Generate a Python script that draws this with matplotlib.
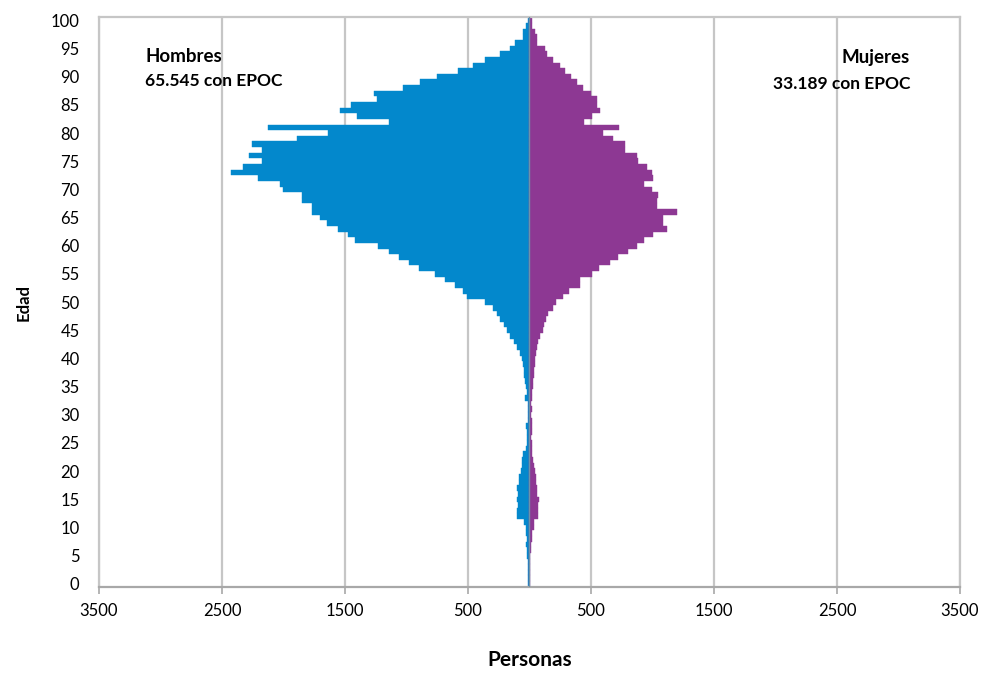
import matplotlib

matplotlib.use('agg')
import matplotlib.pyplot as plt

plt.rcParams['font.family'] = ['Lato', 'DejaVu Sans']

ages = list(range(101))

# persons with EPOC by age (0..100)
hombres = [10, 10, 10, 10, 10, 18, 18, 31, 23, 31,
           31, 42, 104, 104, 97, 104, 91, 104, 85, 85,
           69, 64, 60, 50, 28, 20, 18, 18, 28, 15,
           15, 15, 15, 35, 23, 28, 37, 42, 45, 52,
           60, 77, 99, 125, 160, 180, 205, 240, 267, 294,
           362, 511, 540, 606, 687, 768, 896, 977, 1058, 1142,
           1229, 1419, 1473, 1554, 1649, 1703, 1771, 1771, 1852, 1852,
           2001, 2028, 2205, 2427, 2327, 2172, 2278, 2178, 2259, 1893,
           1636, 2129, 1142, 1405, 1541, 1454, 1242, 1262, 1031, 890,
           755, 579, 457, 362, 240, 158, 118, 50, 50, 28,
           15]
mujeres = [7, 7, 7, 7, 7, 7, 12, 12, 23, 23,
           39, 39, 67, 72, 67, 77, 58, 58, 50, 50,
           45, 39, 31, 22, 22, 18, 15, 18, 22, 18,
           15, 24, 15, 18, 20, 26, 28, 34, 37, 42,
           45, 55, 60, 72, 85, 107, 118, 137, 153, 190,
           215, 275, 324, 411, 411, 505, 568, 654, 722, 803,
           871, 931, 1001, 1115, 1088, 1088, 1202, 1034, 1034, 1047,
           1000, 931, 1007, 993, 953, 885, 871, 779, 779, 676,
           595, 730, 443, 505, 573, 551, 546, 497, 432, 389,
           337, 289, 248, 188, 145, 126, 60, 58, 45, 24,
           20]

x_ticks = [-3500, -2500, -1500, -500, 500, 1500, 2500, 3500]
x_labels = [str(abs(v)) for v in x_ticks]
y_ticks = list(range(0, 101, 5))

BLUE = '#0388cc'
PURPLE = '#8d3893'
GRID = '#c6c6c6'

fig = plt.figure(figsize=(9.81, 6.75), dpi=100)
ax = fig.add_axes([0.1009, 0.1308, 0.8777, 0.8433])

for xv in x_ticks:
    ax.axvline(xv, color=GRID, lw=1.6, zorder=0)

ax.barh(ages, [-v for v in hombres], height=1.0, color=BLUE,
        edgecolor=BLUE, linewidth=0.3, zorder=2)
ax.barh(ages, mujeres, height=1.0, color=PURPLE,
        edgecolor=PURPLE, linewidth=0.3, zorder=2)
ax.axvline(0, color='#6d93a8', lw=1.0, zorder=3)

ax.set_xlim(-3500, 3500)
ax.set_ylim(-0.5, 100.5)
ax.set_xticks(x_ticks)
ax.set_xticklabels(x_labels, fontsize=12)
ax.set_yticks(y_ticks)
ax.set_yticklabels([str(v) for v in y_ticks], fontsize=12)
ax.tick_params(axis='y', length=0, pad=14)
ax.tick_params(axis='x', length=5, width=1.2, color='#a8a8a8',
               direction='out', pad=7)

for side in ['top', 'left', 'right']:
    ax.spines[side].set_color(GRID)
    ax.spines[side].set_linewidth(1.6)
ax.spines['bottom'].set_color('#a8a8a8')
ax.spines['bottom'].set_linewidth(1.6)

ax.set_xlabel('Personas', fontsize=15, fontweight='bold', labelpad=22)
ax.set_ylabel('Edad', fontsize=12, fontweight='bold', labelpad=14)

ax.text(0.054, 0.932, 'Hombres', transform=ax.transAxes, fontsize=13.5,
        fontweight='bold', ha='left', va='center')
ax.text(0.054, 0.888, '65.545 con EPOC', transform=ax.transAxes,
        fontsize=12.5, fontweight='bold', ha='left', va='center')
ax.text(0.942, 0.929, 'Mujeres', transform=ax.transAxes, fontsize=13.5,
        fontweight='bold', ha='right', va='center')
ax.text(0.942, 0.884, '33.189 con EPOC', transform=ax.transAxes,
        fontsize=12.5, fontweight='bold', ha='right', va='center')

plt.savefig('out.png', dpi=100)
